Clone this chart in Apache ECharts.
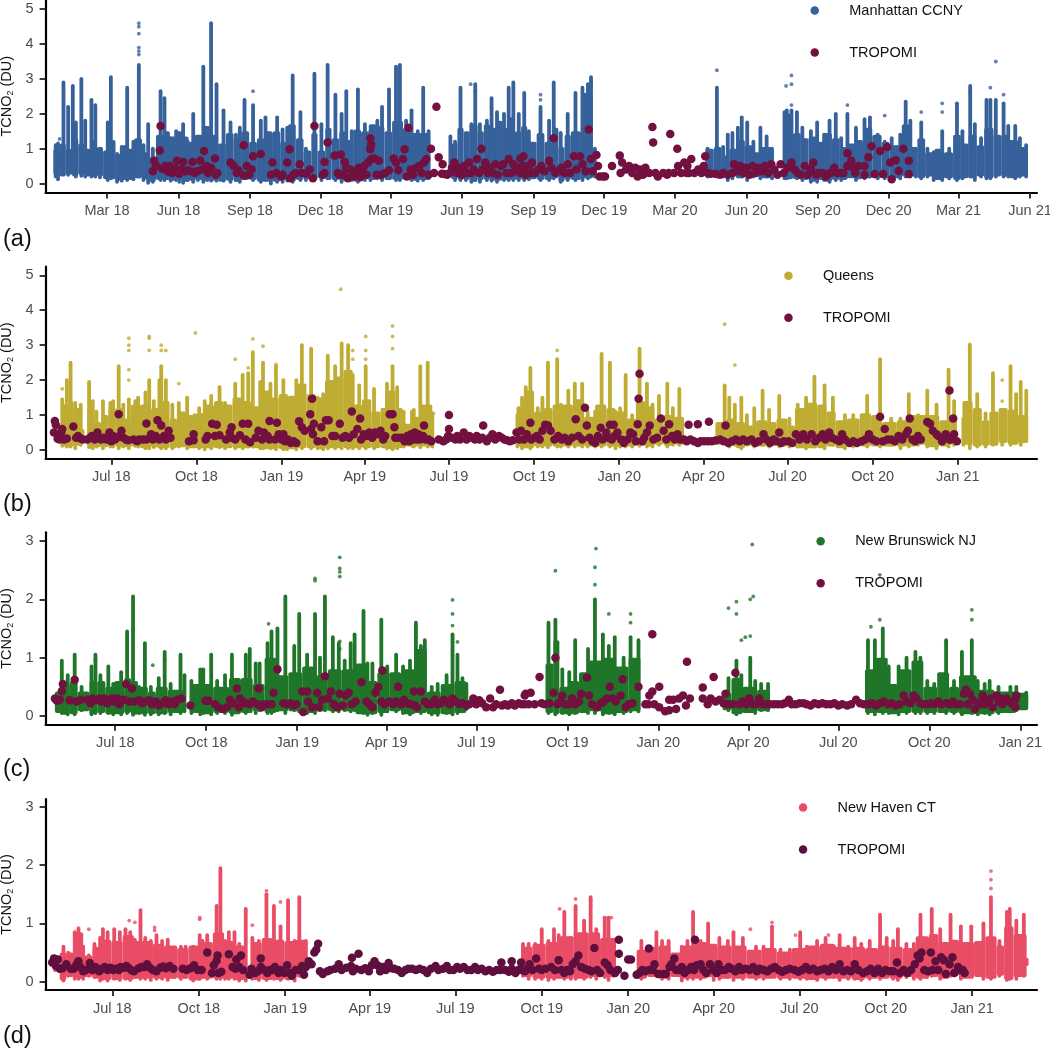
<!DOCTYPE html>
<html><head><meta charset="utf-8">
<script src="https://cdn.jsdelivr.net/npm/echarts@6/dist/echarts.min.js"></script>
<style>html,body{margin:0;background:#fff}#c{width:1050px;height:1048px}</style></head>
<body><div id="c"></div>
<script>
// All x values are days since 2018-01-01. Values are TCNO2 in DU.
const dayZero = Date.UTC(2018,0,1);

const tickDatesA = ['2018-03-01','2018-06-01','2018-09-01','2018-12-01','2019-03-01','2019-06-01','2019-09-01','2019-12-01','2020-03-01','2020-06-01','2020-09-01','2020-12-01','2021-03-01','2021-06-01'];
const tickLabelsA = ['Mar 18','Jun 18','Sep 18','Dec 18','Mar 19','Jun 19','Sep 19','Dec 19','Mar 20','Jun 20','Sep 20','Dec 20','Mar 21','Jun 21'];
const tickDatesB = ['2018-07-01','2018-10-01','2019-01-01','2019-04-01','2019-07-01','2019-10-01','2020-01-01','2020-04-01','2020-07-01','2020-10-01','2021-01-01'];
const tickLabelsB = ['Jul 18','Oct 18','Jan 19','Apr 19','Jul 19','Oct 19','Jan 20','Apr 20','Jul 20','Oct 20','Jan 21'];
const yTicksTall = [0,1,2,3,4,5];
const yTicksShort = [0,1,2,3];

// ground body: [startDay, endDay, low, high]
const bodyA = [[-10,-2,.25,1],[-2,6,.2,1.15],[6,14,.25,1],[14,22,.2,1.3],[22,30,.25,1.15],[30,38,.2,1],[38,46,.2,1.25],[46,54,.2,1.05],[54,62,.12,.95],[62,70,.12,1.25],[70,78,.08,.85],[78,86,.1,1.1],[86,94,.1,1],[94,104,.15,1.3],[104,112,.12,.9],[112,122,.05,.75],[122,132,.1,1.4],[132,140,.1,1.5],[140,148,.08,1.35],[148,156,.1,1.5],[156,164,.05,1.35],[164,172,.08,1.2],[172,182,.1,1.4],[182,192,.08,1.65],[192,202,.08,1.4],[202,212,.05,1.15],[212,222,.08,1.45],[222,232,.05,1.3],[232,242,.1,1.5],[242,252,.1,1.2],[252,262,.05,1.3],[262,272,.05,1.5],[272,282,.05,1.5],[282,292,.1,1.2],[292,302,.05,1.7],[302,312,.1,1.3],[312,322,.12,.95],[322,330,.1,1.45],[330,340,.15,.95],[340,348,.1,1.6],[348,358,.1,1.3],[358,366,.08,1.5],[366,376,.1,1.25],[376,386,.05,1.55],[386,396,.12,1.5],[396,406,.1,1.7],[406,416,.12,1.65],[416,426,.1,1.5],[426,440,.1,1.8],[440,450,.1,1.6],[450,460,.08,1.45],[460,474,.1,1.45],[502,510,.12,1.15],[510,518,.1,1.6],[518,526,.1,1.5],[526,536,.05,1.7],[536,544,.1,1.5],[544,552,.1,1.7],[552,560,.08,1.6],[560,568,.08,1.8],[568,576,.1,1.6],[576,584,.1,1.9],[584,592,.1,1.5],[592,600,.1,1.65],[600,612,.12,1.2],[612,622,.1,1.45],[622,632,.1,1.2],[632,640,.15,1.6],[640,648,.05,1.05],[648,656,.1,1.4],[656,669,.1,1.5],[669,684,.15,2.6],[684,688,.2,1],[829,840,.2,1],[840,850,.2,1.05],[850,860,.2,.8],[860,870,.2,1],[870,880,.15,1.25],[880,890,.2,1.1],[890,900,.2,.9],[900,915,.15,1.05],[931,942,.12,2],[942,952,.12,1.45],[952,962,.1,1.3],[962,972,.05,1.35],[972,982,.1,1.2],[982,992,.05,1.45],[992,1002,.1,1.3],[1002,1012,.1,1.05],[1012,1022,.15,1.15],[1022,1032,.12,1.25],[1032,1044,.15,1.6],[1044,1056,.15,1.4],[1056,1066,.15,1.2],[1066,1082,.15,1.1],[1082,1092,.2,1.7],[1092,1102,.2,1.05],[1102,1112,.15,1.3],[1112,1124,.2,.9],[1124,1136,.1,1],[1136,1148,.15,.9],[1148,1158,.1,1.4],[1158,1168,.15,1.15],[1168,1178,.15,1.4],[1178,1188,.2,1.1],[1188,1200,.15,1.6],[1200,1210,.2,1.4],[1210,1220,.2,1.4],[1220,1232,.15,1.25],[1232,1242,.2,1.05]];
const bodyB = [[121,128,.2,.7],[128,136,.1,1.3],[136,140,.1,1.4],[140,148,.12,1.2],[148,152,.3,.6],[155,162,.1,1.2],[162,170,.08,.8],[170,178,.08,1],[178,186,.1,1.2],[186,194,.08,1.2],[194,202,.08,.9],[202,212,.1,1.3],[212,224,.05,1.3],[224,234,.08,1.2],[234,244,.05,1.4],[244,252,.05,.9],[252,262,.08,1.1],[262,272,.05,1],[272,282,.05,1.05],[282,292,.05,1.3],[292,302,.05,1.4],[302,312,.05,1.3],[312,322,.05,1.5],[322,332,.05,1.4],[332,342,.05,1.25],[342,352,.02,1.7],[352,362,.02,1.5],[362,372,.02,1.6],[372,382,.02,1.55],[382,392,.05,1.9],[392,402,.05,1.6],[402,412,.02,1.5],[412,422,.05,2],[422,432,.05,2.1],[432,442,.05,2.3],[442,452,.05,1.3],[452,462,.05,1.45],[462,472,.05,1.1],[472,480,.05,1.2],[480,488,.02,1.7],[488,496,.05,1.2],[496,506,.1,.75],[506,514,.1,.95],[514,522,.1,1.3],[522,528,.1,1.3],[619,628,.1,1.25],[628,638,.05,1.7],[638,648,.1,1.1],[648,658,.1,1.2],[658,668,.1,1.3],[668,680,.1,1.3],[680,692,.1,1.45],[692,704,.1,.95],[704,716,.1,1.3],[716,726,.1,1.2],[726,738,.1,1.1],[738,748,.1,.9],[748,758,.12,1.4],[758,768,.1,1.25],[768,778,.15,.9],[778,790,.12,1],[790,800,.15,.95],[834,846,.15,.8],[846,856,.12,.9],[856,866,.05,.8],[866,878,.12,.7],[878,890,.1,.85],[890,900,.12,.8],[900,912,.1,.9],[912,920,.1,.7],[920,932,.05,1.2],[932,944,.05,1.35],[944,954,.05,1.3],[954,964,.1,1.1],[964,976,.05,.85],[976,990,.1,.9],[990,1002,.1,1.05],[1002,1014,.1,1],[1014,1030,.1,.8],[1030,1042,.1,.85],[1042,1052,.1,1],[1052,1064,.15,1],[1064,1076,.08,1],[1076,1088,.1,.85],[1088,1095,.15,1],[1101,1112,.15,1.4],[1112,1122,.1,1.2],[1122,1130,.12,.85],[1130,1140,.12,1.1],[1140,1150,.2,1.2],[1150,1160,.15,1.15],[1160,1172,.2,1]];
const bodyC = [[120,127,.05,.42],[127,135,.02,.55],[135,143,.03,.6],[143,155,.08,.42],[155,163,.03,.6],[163,171,.05,.6],[171,180,.03,.5],[180,190,.03,.6],[190,197,.05,.65],[197,204,.02,.6],[204,214,.03,.5],[214,222,.03,.42],[222,234,.03,.5],[234,250,.05,.45],[258,268,.05,.55],[268,280,.03,.55],[280,296,.05,.5],[296,308,.03,.65],[308,320,.05,.65],[320,332,.08,.55],[332,344,.05,1],[344,356,.08,.7],[356,370,.08,.75],[370,384,.05,.85],[384,396,.08,.7],[396,410,.08,.8],[410,424,.08,.8],[424,436,.03,.9],[436,446,.03,.6],[446,458,.05,.75],[458,470,.08,.75],[470,484,.03,.8],[484,496,.05,1.15],[496,510,.03,.42],[510,524,.03,.55],[524,536,.05,.6],[616,624,.05,.9],[624,630,.03,1.3],[630,640,.03,.5],[640,650,.03,.6],[650,660,.05,.75],[660,674,.08,.95],[674,686,.03,1],[686,700,.05,.85],[700,712,.08,1],[795,804,.1,.4],[804,815,.03,.65],[815,830,.05,.5],[830,843,.08,.45],[939,950,.05,.8],[950,962,.05,1],[962,972,.03,.55],[972,986,.05,.8],[986,998,.05,.95],[998,1012,.05,.5],[1012,1024,.05,.75],[1024,1034,.05,.5],[1034,1052,.03,.7],[1052,1070,.03,.45],[1070,1092,.05,.42],[1092,1104,.1,.4]];
const bodyD = [[125,132,.02,.5],[132,140,.08,.5],[140,150,.05,.85],[150,160,.08,.45],[160,167,.05,.6],[167,180,.03,.72],[180,192,.03,.7],[192,204,.03,.8],[204,212,.05,.7],[212,224,.05,.7],[224,236,.05,.65],[236,250,.05,.62],[250,262,.05,.58],[262,276,.02,.62],[276,288,.05,.68],[288,300,.05,.85],[300,310,.05,.7],[310,322,.03,.62],[329,340,.03,.68],[340,352,.03,.75],[352,364,.03,.72],[364,376,.03,.7],[376,387,.08,.72],[616,628,.08,.6],[628,642,.05,.65],[642,656,.05,.68],[656,672,.05,.78],[672,688,.05,.85],[688,700,.08,.85],[700,717,.08,.75],[739,750,.05,.55],[750,762,.08,.6],[762,775,.05,.62],[775,787,.08,.5],[787,800,.05,.62],[800,814,.05,.68],[814,825,.08,.65],[825,840,.05,.62],[840,856,.05,.62],[856,872,.05,.55],[872,888,.05,.58],[888,904,.05,.52],[904,920,.05,.58],[920,934,.03,.62],[934,950,.05,.65],[950,968,.05,.6],[968,982,.03,.6],[982,996,.05,.58],[996,1008,.05,.62],[1008,1022,.05,.6],[1022,1036,.08,.58],[1036,1050,.05,.78],[1050,1060,.08,.82],[1060,1072,.05,.68],[1072,1082,.1,.72],[1082,1098,.05,.68],[1098,1110,.08,.7],[1110,1122,.05,.78],[1122,1130,.1,.62],[1130,1140,.03,.95],[1140,1154,.08,.82]];

// ground columns: [day, low, high]
const colsA = [[-7,.2,1.1],[-4,.12,1.15],[3,.3,2.9],[9,.25,2.2],[15,.3,2.8],[19,.2,1.75],[26,.22,3],[31,.2,1.8],[39,.2,2.4],[44,.2,2.25],[50,.18,1],[60,.1,1.75],[64,.15,3.05],[72,.05,.85],[78,.08,1.05],[85,.1,2.75],[93,.12,1.2],[100,.2,3.4],[106,.1,1.1],[112,.02,1.7],[118,.05,1],[128,.1,2.65],[133,.1,2.45],[141,.08,1.3],[148,.1,1.5],[152,.05,1.2],[157,.02,1.7],[163,.1,1.2],[170,.05,2],[176,.1,1.3],[183,.05,3.35],[188,.1,1.5],[193,.08,4.6],[200,.08,2.85],[209,.08,2.1],[218,.05,1.75],[225,.1,1.4],[230,.05,1.6],[236,.15,2.4],[247,.1,2.25],[257,.05,1.8],[263,.1,1.9],[270,0,1.4],[278,.05,1.9],[285,.05,1.55],[291,.08,1.6],[298,.05,3.1],[308,.1,2.05],[315,.1,1],[326,.1,3.15],[335,.1,1.7],[343,.15,3.4],[353,.1,2.55],[361,.05,2],[367,.1,2.65],[374,.1,1.5],[382,.05,2.7],[391,.1,1.7],[398,.1,1.5],[407,.15,1.8],[413,.1,2.2],[422,.15,2.7],[431,.1,3.35],[436,.1,3.4],[444,.15,1.8],[451,.1,2.1],[459,.08,1.5],[466,.1,2.75],[473,.15,1.5],[501,.3,1.35],[507,.1,1.2],[514,.1,2.75],[521,.1,1.4],[528,.05,1.7],[533,.1,2.85],[539,.05,1.7],[548,.1,1.8],[554,.08,2.45],[561,.05,2.05],[570,.1,2],[576,.1,2.75],[582,.1,2.9],[589,.1,2],[596,.1,2.6],[602,.12,1.5],[617,.1,2.2],[628,.1,1.8],[634,.15,2.9],[643,.05,1.45],[652,.1,2],[662,.1,2.6],[671,.1,2.75],[678,.15,2.85],[682,.2,3.05],[687,.2,1],[832,.2,1],[844,.2,2.75],[852,.2,1.05],[858,.1,1.4],[864,.15,1.45],[871,.2,1.6],[876,.2,1.9],[883,.1,1.75],[891,.2,1.2],[900,.15,1.6],[908,.2,1.35],[915,.15,1],[931,.15,2.05],[934,.15,2.1],[940,.2,2.1],[947,.15,2.05],[954,.1,1.6],[965,.05,1.5],[973,.05,1.75],[982,.1,1.4],[989,.05,1.8],[997,.1,2],[1004,.1,1.3],[1012,.2,2],[1023,.1,1.6],[1034,.15,1.85],[1041,.2,1.9],[1051,.15,1.4],[1060,.15,1.2],[1069,.15,1.3],[1080,.15,1.4],[1087,.2,2.35],[1093,.2,1.8],[1100,.2,1],[1107,.15,1.75],[1115,.2,1],[1123,.1,.9],[1134,.1,1.5],[1143,.15,1],[1153,.1,2.3],[1160,.15,1.5],[1170,.2,2.8],[1176,.1,1.7],[1184,.2,1.3],[1191,.15,2.4],[1196,.15,2.4],[1203,.2,2.4],[1213,.2,2.3],[1219,.2,1.65],[1228,.15,1.65],[1234,.2,1.3],[1242,.2,1.1]];
const colsB = [[121,.3,.7],[128,.12,1.45],[133,.1,2],[137,.1,2.5],[142,.05,1.35],[148,.15,1.3],[157,.08,1.95],[161,.05,1.4],[165,.1,1.1],[172,.05,1.4],[180,.1,1.35],[183,.1,1.4],[189,.05,2.4],[194,.1,1.3],[200,.05,1.45],[207,.12,1.4],[210,.1,1.5],[218,.05,1.65],[222,.05,2],[227,.08,1.4],[233,.1,2],[235,.05,2.4],[240,.05,2],[247,.05,1.3],[254,.1,1.35],[263,.05,1.5],[271,.1,1],[276,.05,1.2],[282,.02,1.4],[289,.05,1.55],[298,.08,1.8],[304,.05,1.35],[315,.05,1.9],[323,.05,2.15],[329,.1,2.2],[334,.1,2.8],[342,.05,1.95],[345,.05,2.5],[353,.05,1.9],[359,.02,2.4],[367,.02,2],[371,.02,1.5],[381,.02,2],[387,.05,3],[397,.05,2.9],[404,.05,1.5],[410,.02,1.6],[415,.05,2.7],[423,.05,2.4],[430,.05,3.05],[437,.05,3],[442,.05,2.15],[449,.05,1.85],[456,.05,2.4],[465,.05,1.75],[479,.05,1.9],[485,.02,2.4],[490,.05,1.8],[497,.1,1.1],[506,.12,1.1],[508,.1,1.15],[515,.08,2.4],[523,.1,2.5],[528,.1,1.05],[620,.1,1],[625,.05,1.5],[629,.1,1.8],[634,.05,2.35],[642,.1,1.2],[647,.1,1.5],[653,.08,2.5],[663,.1,2.6],[667,.1,1.3],[675,.1,1.7],[682,.1,1.9],[690,.1,1.9],[696,.1,1.1],[704,.1,1.1],[711,.1,2.75],[720,.1,2.5],[726,.05,1.1],[731,.1,1.2],[737,.1,2.15],[744,.1,1],[752,.12,2.9],[760,.1,1.9],[766,.1,1.3],[773,.15,1.55],[782,.1,1.9],[788,.15,1.2],[795,.15,1.75],[844,.2,1.85],[849,.1,1.5],[855,.15,1.3],[862,.05,1.5],[868,.15,1],[876,.1,1.2],[885,.15,1.7],[892,.1,1.15],[903,.1,1.55],[914,.1,.9],[923,.1,1.3],[932,.05,1.5],[941,.1,2.1],[952,.05,1.85],[961,.15,1.5],[974,.05,1],[983,.1,1],[998,.1,1.55],[1012,.1,2.6],[1024,.15,.9],[1034,.05,.9],[1043,.1,1.6],[1053,.15,1],[1063,.1,1.7],[1073,.05,1.3],[1086,.1,2.3],[1092,.15,1.4],[1102,.15,.9],[1109,.05,3],[1117,.1,1.6],[1126,.1,1.05],[1134,.15,2.2],[1144,.15,1],[1153,.15,2.4],[1159,.2,1.6],[1164,.15,1.95],[1170,.25,1.7]];
const colsC = [[127,.05,.95],[133,.03,.7],[140,.03,1.05],[147,.1,.5],[157,.03,.85],[161,.05,1.05],[166,.05,.7],[174,.05,.85],[179,.03,.55],[187,.03,.75],[193,.05,1.45],[199,.02,2.05],[205,.05,.5],[211,.02,1.25],[217,.03,.5],[225,.03,.65],[231,.05,1.1],[237,.03,.55],[247,.05,1.05],[251,.08,.7],[258,.05,.6],[267,.03,.8],[270,.05,.8],[278,.03,1.05],[284,.05,.6],[292,.05,.7],[299,.02,1.05],[306,.1,.6],[313,.05,1.05],[317,.08,1.15],[323,.05,.9],[327,.1,.9],[335,.05,1.25],[339,.05,1.45],[345,.1,1.5],[353,.05,2.05],[362,.1,1.2],[367,.08,1.75],[375,.05,1.05],[383,.05,1.75],[388,.1,1],[393,.1,2.05],[401,.08,1.35],[407,.08,1.25],[413,.1,.95],[419,.08,1.25],[423,.1,1.4],[432,.05,1.8],[436,.02,.9],[441,.05,.9],[450,.02,1.65],[456,.08,.85],[465,.08,1.05],[472,.05,.85],[479,.03,.95],[485,.08,1.6],[490,.05,1.2],[494,.1,1.3],[501,.03,.5],[507,.02,.55],[516,.05,.7],[522,.03,1.4],[527,.05,1.05],[532,.08,.65],[536,.12,.55],[619,.05,1.6],[626,.03,1.65],[633,.05,.8],[640,.03,.75],[646,.05,1.3],[652,.08,.7],[659,.05,1.15],[666,.05,2],[674,.03,1.4],[680,.05,1.2],[686,.03,1.35],[695,.05,1],[702,.08,1.35],[710,.08,1.3],[801,.1,.65],[809,.03,.95],[814,.08,.7],[823,.1,1],[828,.05,.6],[834,.1,.55],[841,.1,.55],[942,.05,1.3],[949,.03,1.3],[957,.05,1.5],[963,.05,.85],[973,.03,.85],[981,.05,1],[990,.05,1.1],[995,.05,1],[1002,.05,.6],[1009,.05,.55],[1021,.05,1.3],[1029,.05,.6],[1037,.03,1.1],[1047,.05,1.3],[1053,.03,.6],[1060,.05,.55],[1065,.03,.6],[1074,.05,.5],[1086,.08,.5],[1092,.1,.5],[1102,.2,.4]];
const colsD = [[120,.2,.42],[129,.02,.6],[134,.1,.5],[141,.05,.85],[145,.05,.9],[150,.05,.6],[156,.1,.45],[162,.08,.65],[168,.02,.75],[171,.05,.9],[176,.02,.85],[183,.05,.9],[189,.03,.85],[195,.05,.9],[200,.03,.85],[205,.08,.72],[211,.05,1.23],[216,.05,.75],[222,.03,.7],[228,.05,.8],[234,.05,.7],[240,.03,.72],[247,.08,.55],[254,.05,.6],[259,.08,.6],[267,.02,.6],[274,.05,.8],[277,.08,.7],[282,.05,.8],[292,.05,1.3],[296,.05,1.95],[301,.05,.7],[305,.05,.85],[311,.05,.85],[316,.02,.65],[323,.02,1.25],[330,.05,.75],[337,.03,.7],[345,.03,1.5],[353,.05,1.3],[360,.03,.95],[368,.05,1.4],[375,.02,.7],[380,.1,1.45],[387,.2,.7],[618,.1,.65],[624,.05,.65],[631,.05,.65],[638,.05,.9],[645,.03,.7],[651,.05,.9],[656,.08,.8],[662,.05,1.2],[669,.05,.75],[674,.05,1.3],[683,.05,1.05],[690,.08,1.45],[696,.05,.9],[705,.08,1.1],[709,.03,1.1],[714,.1,.6],[744,.05,.7],[760,.1,.85],[766,.05,.7],[773,.05,.7],[787,.02,.6],[793,.05,.7],[799,.05,1.2],[807,.05,.7],[815,.1,1],[821,.03,.6],[827,.05,.75],[836,.08,.7],[842,.03,.85],[852,.05,.75],[866,.05,.6],[874,.05,.6],[883,.1,.95],[892,.05,.55],[902,.05,.55],[913,.05,.85],[920,.05,.6],[931,.03,.7],[940,.05,.75],[949,.08,.6],[955,.03,.8],[964,.05,.6],[971,.05,.75],[978,.03,.65],[987,.05,.7],[998,.05,1.15],[1005,.1,.75],[1012,.05,.7],[1017,.03,.9],[1026,.08,.65],[1034,.05,.65],[1041,.05,1.15],[1048,.08,.7],[1053,.1,1.25],[1062,.05,.9],[1073,.1,1.15],[1084,.05,.95],[1095,.1,.95],[1108,.05,1],[1116,.05,1.45],[1125,.1,.7],[1133,.03,1.2],[1136,.05,1.25],[1143,.05,1.05],[1151,.1,1.15],[1154,.3,.38]];

// isolated ground points: [day, value]
const dotsA = [[100,3.9],[100,3.8],[100,3.7],[100,4.3],[100,4.5],[100,4.6],[-2,1.28],[247,2.65],[1203,3.5],[844,3.25],[940,3.1],[940,2.85],[933,2.8],[940,2.25],[1170,2.6],[1107,2.05],[1012,2.25],[1060,1.95],[1134,2.05],[1134,2.3],[1196,2.75],[1213,2.55],[533,2.65],[527,2.85],[617,2.55],[617,2.4],[682,2.85],[682,2.95]];
const dotsB = [[128,1.75],[200,2.3],[200,2],[200,2.85],[200,3],[200,3.2],[222,2.85],[222,3.2],[222,3.25],[235,3],[235,2.85],[240,2.85],[254,1.9],[272,3.35],[315,2.6],[329,2.35],[334,3.18],[345,2.97],[359,2.45],[430,2.8],[437,2.85],[442,2.85],[442,2.6],[456,2.6],[456,2.85],[456,3.25],[429,4.6],[485,2.9],[485,3.25],[485,3.55],[529,1.05],[844,3.6],[855,2.43],[1109,3.02],[1144,2],[1144,1.4],[663,2.85]];
const dotsC = [[161,.97],[667,2.87],[825,2.94],[626,2.49],[954,2.42],[408,2.72],[408,2.53],[408,2.47],[408,2.39],[383,2.36],[383,2.32],[336,1.58],[522,1.99],[522,1.75],[522,1.55],[527,1.27],[408,1.28],[408,1.15],[680,1.75],[702,1.75],[702,1.6],[666,2.55],[666,2.25],[809,1.96],[809,1.75],[801,1.85],[814,1.3],[823,1.37],[818,1.35],[823,2],[826,2.05],[954,1.65],[945,1.53],[1047,1.82],[1047,1.65],[219,.87],[231,.97]];
const dotsD = [[156,.9],[145,.92],[199,1.05],[205,1.02],[274,1.1],[274,1.07],[226,.88],[226,.93],[345,1.56],[360,1.37],[330,.97],[744,.55],[799,1.1],[860,.9],[883,1.02],[943,.8],[908,.8],[913,.78],[1116,1.9],[1116,1.75],[1116,1.6],[657,1.25],[674,1.25],[674,1.42],[690,1.4],[690,1.32],[705,1.1],[712,1.1],[998,1.1],[1073,1.05]];

// TROPOMI: [day, value]
const tropomiA = [[118,.35],[120,.65],[122,.52],[127,.95],[128,1.65],[130,.42],[134,.5],[137,.35],[140,.5],[143,.3],[147,.42],[149,.65],[152,.28],[155,.4],[157,.62],[160,.35],[163,.38],[167,.35],[169,.62],[172,.3],[175,.35],[179,.66],[181,.4],[184,.93],[187,.5],[189,.3],[193,.45],[198,.72],[199,.25],[201,.3],[218,.6],[222,.5],[226,.3],[228,.38],[235,.23],[235,1.1],[239,.5],[242,.25],[245,.4],[247,.78],[257,.85],[270,.25],[272,.6],[277,.3],[283,.2],[285,.25],[291,.6],[294,.98],[295,.15],[299,.25],[302,.3],[307,.55],[310,.3],[315,.28],[320,.4],[324,.15],[326,1.65],[337,.25],[339,.3],[339,.62],[343,1.18],[352,.8],[356,.3],[360,.83],[358,.25],[363,.25],[365,.62],[367,.45],[369,.15],[372,.4],[375,.3],[377,.2],[380,.35],[383,.45],[385,.18],[388,.3],[390,.5],[393,.25],[395,.6],[399,.7],[398,.98],[399,1.12],[398,1.3],[403,.72],[406,.25],[409,.65],[412,.25],[417,.3],[422,.38],[428,.72],[431,.6],[434,.38],[440,.7],[442,.98],[447,1.6],[445,.2],[450,.4],[453,.25],[457,.45],[461,.5],[464,.3],[467,.6],[470,.7],[473,.25],[476,1],[480,.3],[483,2.2],[486,.75],[491,.55],[490,.28],[493,.27],[497,.25],[500,.3],[503,.45],[506,.6],[510,.3],[513,.45],[516,.25],[519,.5],[522,.3],[525,.6],[528,.3],[531,.4],[535,.7],[538,.3],[541,1],[543,.4],[546,.6],[549,.3],[552,.45],[556,.3],[559,.55],[562,.25],[566,.5],[569,.55],[573,.3],[576,.7],[579,.3],[582,.55],[585,.35],[588,.45],[591,.3],[595,.78],[598,.25],[601,.5],[604,.3],[591,.72],[594,.5],[598,.35],[602,.45],[606,.6],[610,.3],[614,.4],[618,.5],[622,.35],[628,.65],[631,.45],[634,1.3],[636,.3],[640,.35],[644,.45],[648,.3],[652,.55],[655,.3],[660,.78],[663,.4],[668,.78],[671,.55],[675,.35],[679,1.55],[682,.7],[684,.35],[689,.82],[691,.5],[693,.2],[697,.2],[700,.2],[709,.5],[719,.8],[720,.3],[722,.6],[727,.4],[731,.5],[735,.3],[739,.45],[742,.2],[745,.4],[749,.25],[752,.45],[757,.3],[761,1.62],[762,1.18],[765,.3],[768,.2],[775,.3],[780,.25],[782,.3],[784,1.42],[789,.3],[793,1],[794,.5],[798,.3],[802,.6],[805,.3],[806,.5],[808,.3],[811,.7],[815,.3],[820,.4],[824,.3],[827,.5],[829,.78],[832,.3],[836,.28],[842,.28],[848,.25],[852,.3],[858,.25],[864,.3],[866,.55],[870,.35],[874,.5],[878,.3],[882,.45],[886,.25],[890,.5],[894,.3],[898,.45],[902,.35],[906,.5],[910,.3],[914,.55],[918,.4],[922,.25],[926,.55],[930,.3],[935,.45],[940,.6],[944,.4],[948,.3],[952,.25],[957,.5],[961,.25],[965,.4],[968,.6],[972,.25],[975,.3],[980,.3],[984,.2],[986,.25],[990,.3],[995,.45],[999,.3],[1003,.3],[1007,.3],[1012,.5],[1012,.87],[1017,.65],[1019,.45],[1022,.3],[1026,.5],[1034,.5],[1034,.25],[1039,.75],[1043,1.07],[1047,.27],[1054,.93],[1058,.27],[1063,1.05],[1067,.6],[1069,.12],[1074,.67],[1078,.36],[1084,1],[1091,.65],[1091,.27]];
const tropomiB = [[119,.5],[120,.83],[121,.72],[123,.32],[125,.3],[127,.5],[128,.6],[130,.3],[133,.33],[140,.67],[143,.35],[145,.4],[148,.33],[150,.3],[155,.3],[158,.35],[160,.4],[163,.3],[166,.5],[168,.35],[170,.3],[173,.35],[176,.3],[179,.5],[181,.25],[183,.4],[185,.3],[187,.35],[189,1.02],[190,.4],[192,.55],[194,.35],[197,.3],[199,.28],[205,.3],[209,.25],[211,.3],[215,.3],[219,.3],[219,.76],[224,.45],[226,.3],[229,.4],[231,.85],[233,.3],[235,.7],[238,.4],[240,.3],[243,.55],[245,.35],[265,.25],[270,.28],[270,.45],[283,.3],[285,.4],[290,.75],[293,.4],[295,.72],[298,.42],[305,.3],[309,.5],[311,.35],[311,.65],[315,.3],[320,.42],[323,.75],[326,.3],[329,.75],[331,.22],[337,.35],[340,.55],[344,.3],[346,.5],[350,.4],[352,.3],[352,.83],[358,.3],[360,.78],[362,.45],[365,.3],[367,.45],[369,.25],[372,.3],[375,.2],[378,.25],[381,.2],[384,.82],[387,.65],[390,.55],[396,1.02],[398,1.47],[397,.6],[399,.45],[400,.75],[404,.25],[408,.65],[411,.25],[413,.85],[416,.85],[420,.4],[423,.4],[428,.75],[431,.35],[434,.4],[438,.35],[441,1.1],[443,.45],[447,.6],[450,.9],[451,.3],[454,.45],[457,.4],[460,.5],[463,.35],[466,.5],[469,.45],[472,.55],[475,.3],[477,.4],[482,1.02],[485,1.02],[487,.65],[488,.35],[491,.35],[495,.35],[498,.25],[501,.4],[503,.25],[505,.45],[507,.3],[509,.5],[511,.3],[513,.45],[515,.3],[518,.4],[519,.7],[521,.3],[524,.3],[527,.25],[535,.3],[540,.25],[543,.3],[545,.4],[546,.6],[546,1],[549,.35],[553,.3],[555,.4],[558,.3],[562,.5],[565,.3],[568,.4],[571,.35],[574,.3],[576,.4],[579,.3],[582,.35],[583,.7],[587,.25],[590,.35],[593,.45],[596,.3],[600,.4],[603,.35],[606,.3],[609,.28],[612,.25],[615,.28],[619,.5],[622,.3],[624,.55],[627,.3],[630,.45],[634,.78],[635,.3],[638,.35],[641,.4],[644,.3],[647,.55],[650,.72],[653,.7],[656,.55],[660,.3],[664,.4],[668,.3],[671,.35],[675,.25],[679,.35],[683,.88],[686,.4],[690,.3],[693,1.21],[695,.7],[698,.35],[701,.25],[704,.2],[707,.4],[710,.64],[712,.3],[716,.5],[718,.35],[720,.72],[722,.3],[724,.72],[725,.4],[728,.5],[732,.3],[735,.2],[739,.3],[742,.5],[745,.45],[748,.25],[750,.74],[751,1.47],[752,2.18],[755,.25],[757,.35],[760,.5],[763,.7],[767,.3],[771,.35],[775,.9],[778,.55],[781,.3],[784,.74],[787,.4],[790,.3],[793,.45],[796,.3],[800,.3],[803,.25],[805,.72],[807,.3],[811,.25],[815,.74],[815,.2],[818,.25],[822,.25],[826,.25],[827,.81],[830,.25],[834,.27],[839,.3],[843,.25],[845,.7],[848,.2],[852,.25],[856,.3],[860,.25],[864,.3],[868,.25],[873,.3],[877,.2],[881,.25],[886,.45],[889,.3],[893,.2],[897,.3],[900,.25],[903,.5],[905,.2],[908,.25],[913,.25],[917,.2],[921,.45],[925,.3],[929,.45],[933,.3],[938,.45],[942,.25],[946,.35],[950,.45],[953,.3],[957,.5],[960,.35],[964,.3],[968,.25],[971,.45],[974,.3],[979,.2],[983,.25],[987,.2],[992,.25],[996,.3],[1000,.45],[1004,.3],[1008,.25],[1012,.95],[1015,.25],[1017,.6],[1020,.3],[1024,.3],[1028,.25],[1032,.4],[1036,.3],[1040,.45],[1042,.55],[1044,.9],[1047,.3],[1050,.25],[1053,.4],[1056,.3],[1063,.8],[1066,.75],[1069,.55],[1073,.45],[1075,.4],[1079,.25],[1083,.45],[1087,.3],[1088,.3],[1087,1.7],[1091,.9],[1092,.45],[1095,.25]];
const tropomiC = [[120,.3],[122,.26],[125,.28],[127,.43],[128,.55],[135,.27],[140,.62],[142,.25],[146,.28],[153,.28],[156,.22],[158,.3],[161,.27],[165,.3],[167,.25],[170,.3],[173,.22],[175,.28],[178,.3],[180,.25],[183,.3],[185,.2],[188,.27],[190,.28],[192,.55],[195,.25],[198,.47],[200,.25],[205,.27],[208,.22],[211,.25],[215,.27],[218,.2],[222,.25],[225,.18],[229,.22],[232,.27],[235,.2],[238,.25],[241,.2],[244,.28],[248,.3],[257,.18],[272,.26],[275,.26],[282,.2],[285,.15],[290,.12],[294,.15],[297,.28],[300,.22],[304,.47],[306,.15],[307,.3],[310,.25],[313,.22],[317,.2],[320,.25],[325,.2],[326,.47],[329,.15],[331,.2],[335,.2],[339,.2],[341,.4],[345,.8],[351,.22],[355,.2],[358,.22],[361,.18],[364,.2],[371,.07],[370,.42],[375,.42],[376,.25],[380,.15],[385,.4],[387,.15],[390,.28],[393,.68],[396,.3],[399,.42],[402,.2],[405,.15],[408,.38],[411,.18],[414,.35],[417,.4],[420,.2],[424,.25],[430,.58],[435,.25],[438,.2],[441,.15],[444,.4],[447,.5],[450,.25],[451,.78],[453,.2],[458,.25],[462,.2],[465,.25],[467,.5],[470,.2],[473,.28],[476,.22],[480,.2],[484,.18],[486,.15],[483,.42],[490,.42],[494,.25],[497,.2],[500,.2],[504,.28],[507,.2],[510,.22],[513,.28],[516,.25],[519,.2],[522,.3],[525,.25],[529,.2],[532,.22],[536,.18],[539,.2],[543,.3],[546,.2],[549,.27],[552,.22],[556,.15],[560,.3],[563,.15],[566,.2],[570,.45],[572,.18],[575,.2],[578,.18],[582,.22],[585,.18],[589,.22],[592,.2],[595,.2],[596,.38],[599,.2],[595,.35],[601,.4],[605,.2],[610,.67],[612,.22],[615,.2],[620,.22],[624,.4],[626,1],[628,.2],[631,.25],[633,.35],[636,.2],[640,.2],[643,.3],[646,.2],[650,.25],[652,.38],[658,.66],[660,.35],[663,.2],[668,.15],[672,.22],[675,.25],[678,.3],[681,.5],[684,.3],[687,.25],[692,.35],[694,.63],[697,.15],[700,.2],[704,.22],[710,.5],[717,.2],[720,.2],[721,.35],[724,.42],[724,1.4],[726,.2],[731,.5],[731,.15],[737,.08],[741,.1],[741,.28],[745,.28],[748,.12],[751,.3],[755,.35],[758,.18],[759,.93],[762,.3],[775,.3],[775,.49],[780,.2],[783,.3],[786,.67],[788,.25],[792,.28],[796,.22],[798,.38],[800,.2],[805,.2],[808,.74],[812,.2],[815,.25],[819,.2],[822,.3],[826,.2],[829,.2],[832,.3],[836,.2],[840,.2],[843,.2],[847,.2],[851,.2],[855,.2],[858,.22],[862,.28],[865,.2],[869,.2],[873,.22],[877,.22],[880,.2],[884,.18],[888,.22],[892,.2],[896,.22],[900,.2],[904,.2],[908,.22],[912,.18],[916,.2],[921,.18],[925,.2],[930,.28],[934,.22],[938,.2],[942,.2],[946,.22],[950,.18],[954,.22],[958,.25],[962,.2],[966,.22],[970,.18],[974,.2],[978,.35],[981,.25],[985,.22],[988,.35],[991,.3],[995,.22],[998,.2],[1002,.2],[1006,.22],[1009,.2],[1013,.25],[1016,.2],[1021,.22],[1025,.2],[1028,.25],[1031,.2],[1035,.2],[1039,.38],[1041,.45],[1043,.2],[1045,.38],[1048,.28],[1050,.12],[1054,.2],[1056,.25],[1058,.35],[1060,.2],[1063,.25],[1066,.3],[1068,.15],[1072,.35],[1074,.25],[1076,.3],[1078,.2],[1082,.3],[1085,.25],[1088,.2],[1091,.15],[1091,.28],[1092,.35]];
const tropomiD = [[117,.33],[119,.4],[121,.27],[123,.38],[125,.22],[128,.23],[132,.3],[137,.22],[140,.22],[143,.3],[145,.35],[147,.25],[150,.18],[153,.2],[157,.32],[160,.2],[163,.25],[167,.18],[170,.22],[173,.25],[176,.2],[179,.24],[182,.2],[185,.22],[188,.2],[190,.25],[193,.24],[196,.27],[198,.24],[201,.2],[204,.18],[209,.23],[212,.25],[215,.25],[218,.3],[221,.24],[224,.2],[228,.18],[232,.24],[235,.26],[238,.23],[242,.27],[246,.22],[256,.22],[260,.2],[264,.23],[268,.28],[272,.2],[276,.2],[282,.5],[287,.15],[289,.28],[292,.36],[293,.45],[294,.15],[297,.17],[305,.47],[309,.25],[312,.22],[313,.38],[316,.25],[318,.45],[320,.2],[327,.12],[329,.22],[333,.15],[336,.18],[339,.25],[339,.4],[343,.2],[346,.15],[349,.2],[352,.2],[354,.25],[358,.15],[360,.2],[364,.15],[367,.28],[370,.15],[372,.1],[376,.2],[380,.2],[383,.27],[385,.12],[387,.25],[390,.35],[393,.3],[396,.5],[398,.55],[400,.65],[402,.18],[405,.13],[410,.18],[413,.2],[418,.22],[422,.3],[425,.2],[430,.24],[435,.27],[436,.41],[437,.18],[440,.22],[443,.48],[446,.2],[450,.23],[454,.18],[457,.28],[460,.35],[463,.28],[466,.18],[469,.25],[472,.2],[475,.32],[478,.23],[481,.22],[485,.2],[489,.15],[493,.2],[496,.22],[500,.22],[504,.2],[508,.22],[512,.2],[516,.15],[520,.22],[525,.27],[528,.2],[533,.22],[537,.27],[540,.2],[544,.2],[548,.25],[551,.22],[555,.25],[559,.2],[563,.2],[567,.25],[570,.2],[574,.22],[578,.18],[582,.2],[586,.17],[590,.2],[594,.2],[595,.33],[599,.2],[603,.17],[606,.22],[606,.35],[610,.15],[613,.2],[616,.33],[617,.2],[620,.18],[623,.22],[625,.3],[628,.2],[632,.4],[635,.22],[638,.2],[642,.22],[648,.25],[652,.2],[656,.37],[659,.2],[662,.15],[665,.2],[668,.18],[671,.3],[674,.35],[677,.45],[680,.25],[684,.22],[688,.2],[691,.18],[694,.58],[697,.2],[700,.15],[705,.33],[708,.28],[711,.2],[716,.15],[719,.2],[720,.72],[720,.48],[726,.1],[730,.38],[733,.38],[739,.12],[742,.15],[745,.2],[748,.18],[752,.57],[752,.2],[756,.2],[758,.3],[762,.13],[767,.13],[770,.13],[774,.25],[776,.3],[779,.4],[781,.2],[784,.2],[787,.25],[790,.15],[794,.2],[797,.25],[800,.2],[801,.72],[803,.28],[807,.3],[810,.2],[813,.15],[817,.3],[820,.2],[824,.15],[826,.3],[829,.2],[833,.2],[837,.25],[840,.22],[844,.18],[848,.25],[851,.2],[855,.22],[859,.2],[863,.25],[867,.18],[870,.22],[874,.2],[878,.18],[882,.22],[886,.25],[890,.2],[894,.17],[898,.2],[902,.22],[907,.2],[911,.17],[915,.2],[919,.25],[923,.2],[927,.22],[931,.18],[935,.2],[939,.22],[943,.18],[947,.25],[951,.2],[955,.3],[959,.18],[963,.2],[967,.18],[971,.3],[975,.2],[980,.15],[984,.18],[988,.22],[992,.15],[996,.22],[1000,.15],[1004,.2],[1008,.18],[1012,.18],[1016,.33],[1019,.15],[1023,.2],[1027,.15],[1031,.2],[1035,.3],[1038,.45],[1040,.4],[1042,.5],[1045,.2],[1049,.18],[1052,.5],[1054,.2],[1057,.35],[1060,.2],[1063,.42],[1066,.37],[1068,.13],[1072,.3],[1075,.42],[1077,.15],[1081,.25],[1083,.2],[1086,.2],[1088,.15]];

const groundNames = ['Manhattan CCNY','Queens','New Brunswick NJ','New Haven CT'];
const panelLetters = ['(a)','(b)','(c)','(d)'];
const groundColors = ['#36619b','#bfac33','#1f7628','#e94d66'];
const tropomiColors = ['#72103f','#72103f','#72103f','#5f0f3e'];
const body = [bodyA,bodyB,bodyC,bodyD];
const cols = [colsA,colsB,colsC,colsD];
const dots = [dotsA,dotsB,dotsC,dotsD];
const tropomi = [tropomiA,tropomiB,tropomiC,tropomiD];
const tickDates = [tickDatesA,tickDatesB,tickDatesB,tickDatesB];
const tickLabels = [tickLabelsA,tickLabelsB,tickLabelsB,tickLabelsB];
const yTicks = [yTicksTall,yTicksTall,yTicksShort,yTicksShort];

// layout (not data)
const layout = [
 {top:0,h:192.5,xMin:-20,xMax:1256,yMin:-.258,yMax:5.265,legendX:810.5,legendY:3,letterY:239},
 {top:266.7,h:192,xMin:110,xMax:1181.6,yMin:-.249,yMax:5.246,legendX:784.2,legendY:268.3,letterY:504},
 {top:532.3,h:192.4,xMin:110.6,xMax:1112.9,yMin:-.149,yMax:3.149,legendX:816.4,legendY:533.7,letterY:769},
 {top:799,h:191,xMin:110,xMax:1165,yMin:-.143,yMax:3.137,legendX:798.8,legendY:800,letterY:1036}
];
const toMs = d => dayZero + d*864e5;
const txt = '#4d4d4d', font = 'Liberation Sans, Arial, sans-serif';

const grid=[],xAxis=[],yAxis=[],series=[],legend=[],title=[];
layout.forEach((L,i)=>{
  grid.push({left:45.6,right:13,top:L.top,height:L.h,containLabel:false,outerBoundsMode:'none'});
  const ticks = tickDates[i].map(s=>Date.parse(s+'T00:00:00Z'));
  const lab = {}; ticks.forEach((t,k)=>lab[t]=tickLabels[i][k]);
  xAxis.push({type:'value',gridIndex:i,min:toMs(L.xMin),max:toMs(L.xMax),
    axisLine:{show:true,onZero:false,lineStyle:{color:'#000',width:2.2}},
    axisTick:{show:true,customValues:ticks,length:6,lineStyle:{color:'#222',width:1.8}},
    axisLabel:{customValues:ticks,color:txt,fontSize:14.5,fontFamily:font,margin:11,hideOverlap:false,showMinLabel:true,showMaxLabel:true,formatter:v=>lab[v]||''},
    splitLine:{show:false}});
  yAxis.push({type:'value',gridIndex:i,min:L.yMin,max:L.yMax,
    name:'TCNO{s|2} (DU)',nameLocation:'middle',nameGap:28,
    nameTextStyle:{color:'#111',fontSize:14.5,fontFamily:font,rich:{s:{fontSize:9,verticalAlign:'bottom',color:'#111',fontFamily:font,padding:[5,0,0,0]}}},
    axisLine:{show:true,onZero:false,lineStyle:{color:'#000',width:2.2}},
    axisTick:{show:true,customValues:yTicks[i],length:6,lineStyle:{color:'#222',width:1.8}},
    axisLabel:{customValues:yTicks[i],color:txt,fontSize:14.5,fontFamily:font,margin:12},
    splitLine:{show:false}});
  const c = groundColors[i];
  series.push({name:groundNames[i]+' body',type:'custom',xAxisIndex:i,yAxisIndex:i,silent:true,z:2,clip:true,
    data:body[i].map(b=>[toMs(b[0]),toMs(b[1]),b[2],b[3]]),encode:{x:[0,1],y:[2,3]},
    renderItem:(p,api)=>{const a=api.coord([api.value(0),api.value(3)]),b=api.coord([api.value(1),api.value(2)]);
      return {type:'rect',shape:{x:a[0],y:a[1],width:b[0]-a[0],height:b[1]-a[1],r:2},style:{fill:c}};}});
  series.push({name:groundNames[i],type:'custom',xAxisIndex:i,yAxisIndex:i,silent:true,z:3,clip:true,itemStyle:{color:c},
    data:cols[i].map(b=>[toMs(b[0]),b[1],b[2]]),encode:{x:0,y:[1,2]},
    renderItem:(p,api)=>{const a=api.coord([api.value(0),api.value(1)]),b=api.coord([api.value(0),api.value(2)]);
      return {type:'line',shape:{x1:a[0],y1:a[1],x2:b[0],y2:b[1]},style:{stroke:c,lineWidth:3.8,lineCap:'round',fill:null}};}});
  series.push({name:groundNames[i]+' points',type:'scatter',xAxisIndex:i,yAxisIndex:i,silent:true,z:3,symbolSize:3.8,
    itemStyle:{color:c},data:dots[i].map(b=>[toMs(b[0]),b[1]])});
  series.push({name:'TROPOMI',type:'scatter',xAxisIndex:i,yAxisIndex:i,silent:true,z:4,symbolSize:8.5,
    itemStyle:{color:tropomiColors[i],opacity:1},data:tropomi[i].map(b=>[toMs(b[0]),b[1]])});
  legend.push({orient:'vertical',left:L.legendX,top:L.legendY,padding:0,itemGap:27,itemWidth:59,itemHeight:8.5,icon:'circle',
    selectedMode:false,textStyle:{color:'#111',fontSize:14.5,fontFamily:font,padding:0},
    data:[{name:groundNames[i],itemStyle:{color:c}},{name:'TROPOMI',itemStyle:{color:tropomiColors[i]}}]});
  title.push({text:panelLetters[i],left:3,top:L.letterY-11,padding:0,textStyle:{color:'#111',fontSize:23.5,fontWeight:'normal',fontFamily:font}});
});

const chart = echarts.init(document.getElementById('c'),null,{renderer:'canvas'});
chart.setOption({animation:false,backgroundColor:'#fff',grid,xAxis,yAxis,series,legend,title,tooltip:{show:false}});
</script></body></html>
